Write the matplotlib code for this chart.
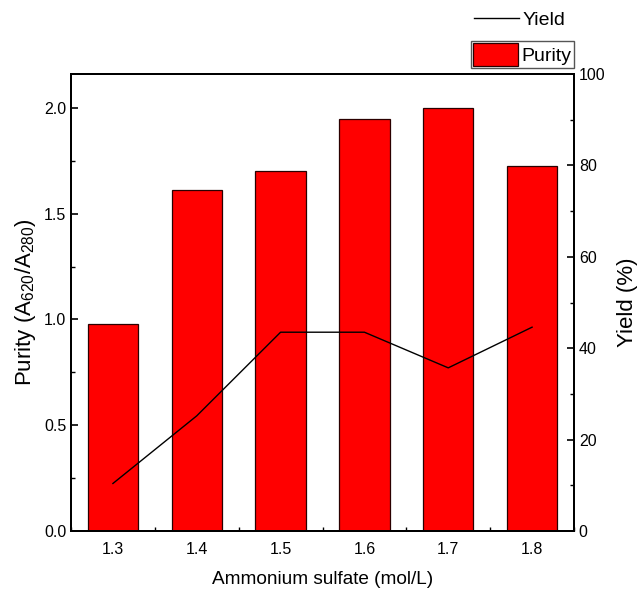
import matplotlib
matplotlib.use("Agg")
import matplotlib.pyplot as plt
from matplotlib.ticker import MultipleLocator, FormatStrFormatter
from matplotlib.patches import Patch
from matplotlib.lines import Line2D

plt.rcParams['font.family'] = ['Liberation Sans', 'DejaVu Sans']
plt.rcParams['mathtext.default'] = 'regular'

concentration = [1.3, 1.4, 1.5, 1.6, 1.7, 1.8]
purity = [0.98, 1.61, 1.70, 1.945, 2.0, 1.725]
yield_pct = [10.4, 25.2, 43.5, 43.5, 35.7, 44.6]

fig = plt.figure(figsize=(6.44, 6.01), dpi=100)
ax = fig.add_axes([71/644, 1-531/601, (574-71)/644, (531-74)/601])

ax.bar(concentration, purity, width=0.06, color='#ff0000', edgecolor='#2a0000', linewidth=0.9, zorder=2)
ax.set_xlim(1.25, 1.85)
ax.set_ylim(0, 2.16)
ax.set_xticks(concentration)
ax.set_xticklabels([f"{c:.1f}" for c in concentration])
ax.xaxis.set_minor_locator(MultipleLocator(0.05))
ax.yaxis.set_major_locator(MultipleLocator(0.5))
ax.yaxis.set_minor_locator(MultipleLocator(0.25))
ax.yaxis.set_major_formatter(FormatStrFormatter('%.1f'))

ax2 = ax.twinx()
ax2.plot(concentration, yield_pct, color='black', linewidth=1.0, zorder=3)
ax2.set_ylim(0, 100)
ax2.yaxis.set_major_locator(MultipleLocator(20))
ax2.yaxis.set_minor_locator(MultipleLocator(10))

for a in (ax, ax2):
    for s in a.spines.values():
        s.set_linewidth(1.4)
ax.tick_params(axis='both', which='major', direction='in', length=5, width=1.2, labelsize=11.5, top=False, right=False)
ax.tick_params(axis='both', which='minor', direction='in', length=3, width=1.0, top=False, right=False)
ax.tick_params(axis='x', which='major', pad=8)
ax2.tick_params(axis='y', which='major', direction='in', length=5, width=1.2, labelsize=11.5)
ax2.tick_params(axis='y', which='minor', direction='in', length=3, width=1.0)

ax.set_xlabel('Ammonium sulfate (mol/L)', fontsize=13.7, labelpad=10)
ax.set_ylabel('Purity (A$_{620}$/A$_{280}$)', fontsize=16, labelpad=4)
ax2.set_ylabel('Yield (%)', fontsize=16, labelpad=8)

leg1 = fig.legend(handles=[Line2D([], [], color='black', linewidth=1.0)], labels=['Yield'],
                  loc='center left', bbox_to_anchor=(474/644, 1-20/601), frameon=False,
                  fontsize=14, borderpad=0, borderaxespad=0, handlelength=2.3, handletextpad=0.2)
leg2 = fig.legend(handles=[Patch(facecolor='#ff0000', edgecolor='#2a0000', linewidth=0.9)], labels=['Purity'],
                  loc='upper right', bbox_to_anchor=(574/644, 1-41/601), frameon=True, fancybox=False,
                  edgecolor='#555555', framealpha=1, fontsize=14, borderpad=0.12, borderaxespad=0,
                  handlelength=2.3, handleheight=1.4, handletextpad=0.2)
leg2.get_frame().set_linewidth(1.0)

fig.savefig('out.png', dpi=100)
